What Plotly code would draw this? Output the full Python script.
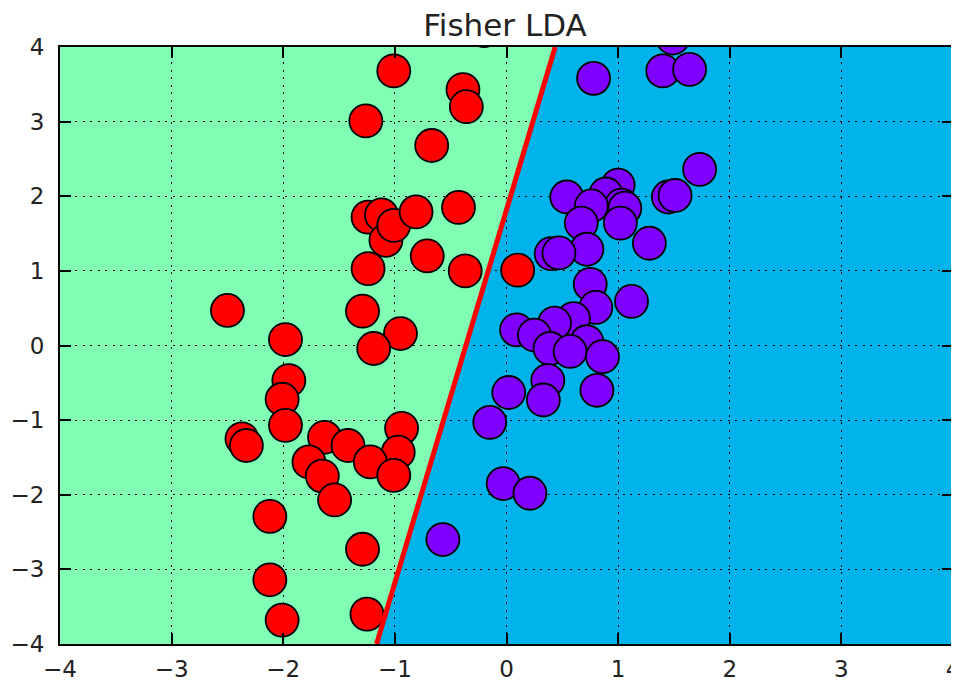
import plotly.graph_objects as go

# ---- data ----
red_x = [-1.01, -0.39, -0.36, -1.26, -0.67, -1.24, -1.12, -1.08, -1.01, -0.81,
         -0.43, -0.71, -1.24, -0.37, 0.10, -1.29, -0.95, -1.19, -2.50, -1.98,
         -1.95, -2.01, -1.98, -2.37, -2.33, -1.63, -1.77, -1.42, -1.65, -1.54,
         -0.94, -0.97, -1.22, -1.01, -2.12, -1.29, -2.12, -2.01, -1.25, -0.20]
red_y = [3.68, 3.43, 3.20, 3.01, 2.68, 1.72, 1.75, 1.41, 1.61, 1.79,
         1.85, 1.20, 1.03, 1.00, 1.01, 0.46, 0.16, -0.04, 0.47, 0.08,
         -0.47, -0.72, -1.07, -1.25, -1.34, -1.23, -1.56, -1.34, -1.75, -2.07,
         -1.11, -1.43, -1.56, -1.74, -2.29, -2.73, -3.14, -3.68, -3.60, 4.22]

purple_x = [0.78, 1.40, 1.64, 1.49, 1.73, 0.54, 1.00, 0.89, 1.03, 0.76,
            1.06, 1.02, 0.67, 1.45, 1.51, 1.28, 0.72, 0.40, 0.47, 0.75,
            0.80, 1.12, 0.60, 0.43, 0.09, 0.25, 0.72, 0.39, 0.57, 0.86,
            0.37, 0.02, 0.33, 0.81, -0.15, -0.03, 0.21, -0.57]
purple_y = [3.58, 3.68, 3.70, 4.12, 2.36, 1.99, 2.15, 2.03, 1.88, 1.87,
            1.84, 1.64, 1.64, 1.99, 2.01, 1.37, 1.29, 1.23, 1.24, 0.82,
            0.51, 0.59, 0.36, 0.30, 0.21, 0.14, 0.05, -0.04, -0.08, -0.15,
            -0.47, -0.63, -0.73, -0.60, -1.03, -1.85, -1.98, -2.60]

# Fisher LDA decision boundary: w0*x + w1*y + b = 0
lda_w = [5.0, -1.0]
lda_b = 1.82

axis_range = [-4, 4]
tick_vals = [-4, -3, -2, -1, 0, 1, 2, 3, 4]

GREEN = "#80FFB4"
BLUE = "#00B4EB"
RED = "#FF0000"
PURPLE = "#7F00FF"


def boundary_x(y):
    return -(lda_w[1] * y + lda_b) / lda_w[0]


ylo, yhi = axis_range
xb_lo, xb_hi = boundary_x(ylo), boundary_x(yhi)

fig = go.Figure()

marker_common = dict(size=33, line=dict(color="black", width=1.8), opacity=1)
fig.add_trace(go.Scatter(
    x=red_x, y=red_y, mode="markers",
    marker=dict(color=RED, **marker_common), showlegend=False))
fig.add_trace(go.Scatter(
    x=purple_x, y=purple_y, mode="markers",
    marker=dict(color=PURPLE, **marker_common), showlegend=False))

# decision line on top of the points
fig.add_trace(go.Scatter(
    x=[xb_lo, xb_hi], y=[ylo, yhi], mode="lines",
    line=dict(color=RED, width=5), hoverinfo="skip", showlegend=False))

xa0 = axis_range[0]
fig.add_shape(
    type="path", xref="x", yref="y", layer="below",
    path=f"M {xa0},{ylo} L {xb_lo},{ylo} L {xb_hi},{yhi} L {xa0},{yhi} Z",
    fillcolor=GREEN, line=dict(width=0))

axis_common = dict(
    range=axis_range, tickvals=tick_vals, automargin=False,
    showgrid=True, gridcolor="black", gridwidth=1, griddash="2px,5.5px",
    zeroline=False, showline=True, linecolor="black", linewidth=2,
    mirror="ticks", ticks="inside", ticklen=11, tickwidth=1.6, tickcolor="black",
    tickfont=dict(family="DejaVu Sans", size=23, color="#222222"),
    ticklabeloverflow="allow",
)

# the page body has an 8px margin, so the figure is sized to fit the window
W, H = 951, 673
fig.update_layout(
    width=W, height=H,
    margin=dict(l=52, r=6, t=39, b=37),
    paper_bgcolor="white", plot_bgcolor=BLUE,
    title=dict(text="Fisher LDA", x=497 / W, xanchor="center",
               yref="container", y=1 - 17 / H, yanchor="middle",
               font=dict(family="DejaVu Sans", size=31, color="#222222")),
    xaxis=dict(**axis_common, ticklabelstandoff=3),
    yaxis=dict(**axis_common, ticklabelstandoff=9),
)

fig.write_html("out.html")
